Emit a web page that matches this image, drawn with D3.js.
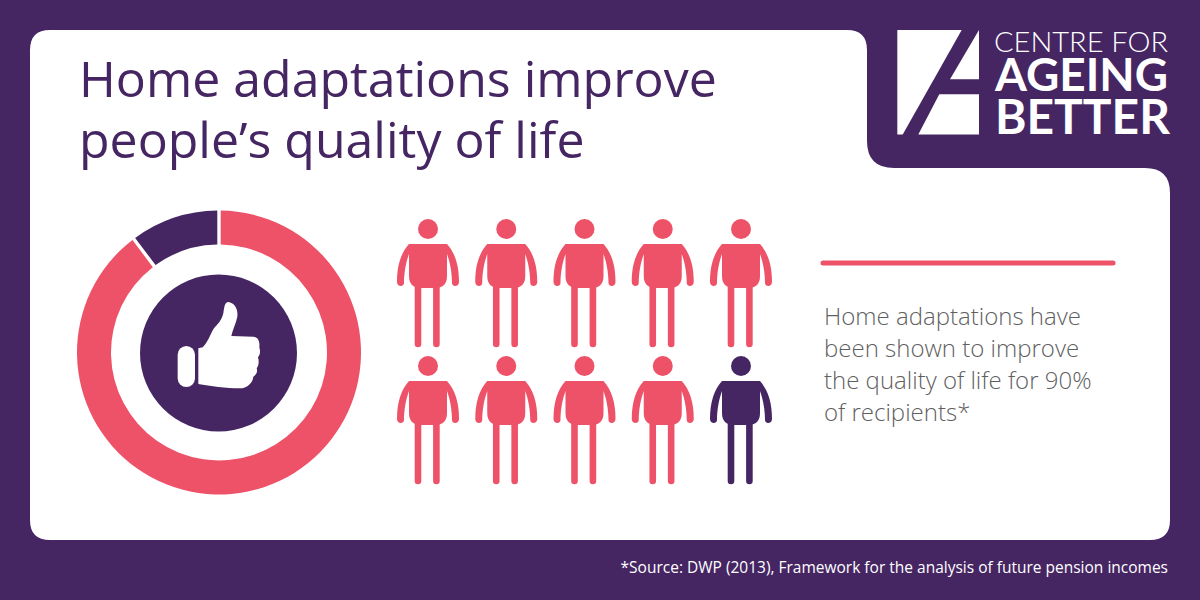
<!DOCTYPE html>
<html>
<head>
<meta charset="utf-8">
<style>
html, body { margin: 0; padding: 0; background: #452663; }
svg { display: block; }
text { font-family: "Open Sans", sans-serif; }
.logo text { font-family: Lato, sans-serif; }
</style>
<script src="https://cdn.jsdelivr.net/npm/d3@7"></script>
</head>
<body>
<svg width="1200" height="600"></svg>
<script>
var titleLines = ["Home adaptations improve", "people\u2019s quality of life"];
var bodyLines = ["Home adaptations have", "been shown to improve", "the quality of life for 90%", "of recipients*"];
var sourceLine = "*Source: DWP (2013), Framework for the analysis of future pension incomes";
var donutLabels = ["improved", "not improved"];
var donutValues = [90, 10];
var peopleColumns = [0, 1, 2, 3, 4];
var peopleRows = [0, 1];
var peopleImproved = 9;

var purple = "#452663", pink = "#ed5268", grey = "#5f5f5f";

var svg = d3.select("svg");

// white panel with the logo notch cut out of the top right
svg.append("path")
    .attr("fill", "#fff")
    .attr("d", "M50,30 H847 Q867,30 867,50 V141 Q867,168 894,168 H1145 Q1170,168 1170,193 V520 Q1170,540 1150,540 H50 Q30,540 30,520 V50 Q30,30 50,30 Z");

// title
svg.append("g").selectAll("text")
    .data(titleLines)
  .enter().append("text")
    .attr("x", 79)
    .attr("y", function(d, i) { return 97 + i * 61; })
    .attr("fill", purple)
    .attr("font-size", 50)
    .text(function(d) { return d; });

// donut
var pie = d3.pie().sort(null).padAngle(0.019);
var arc = d3.arc().innerRadius(108).outerRadius(142);
var donut = svg.append("g").attr("transform", "translate(219,352.5)");

donut.selectAll("path")
    .data(pie(donutValues))
  .enter().append("path")
    .attr("d", arc)
    .attr("fill", function(d, i) { return i == 0 ? pink : purple; })
    .append("title").text(function(d, i) { return donutLabels[i]; });

donut.append("circle")
    .attr("cx", -0.5)
    .attr("cy", 0.5)
    .attr("r", 78.5)
    .attr("fill", purple);

// thumb, drawn in 3x units
var thumb = svg.append("g").attr("transform", "translate(130,260) scale(0.3333)").attr("fill", "#fff");
thumb.append("rect")
    .attr("x", 143).attr("y", 258)
    .attr("width", 52).attr("height", 123)
    .attr("rx", 26);
thumb.append("path")
    .attr("d", "M205,265 L218,262 C232,250 240,225 250,208 C262,192 274,185 280,160 C283,140 284,127 295,126 C312,128 325,145 322,170 C318,190 308,208 304,228 L370,230 C385,232 390,245 388,262 C392,275 390,285 384,292 C388,305 386,318 380,325 C384,335 378,345 370,350 C368,370 350,385 330,385 C290,385 240,378 205,372 Z");

// people
var x = d3.scalePoint().domain(peopleColumns).range([428, 741]);
var y = d3.scalePoint().domain(peopleRows).range([229, 366]);

var people = d3.cross(peopleRows, peopleColumns).map(function(d, i) {
  return {row: d[0], col: d[1], improved: i < peopleImproved};
});

var person = svg.append("g").selectAll("g")
    .data(people)
  .enter().append("g")
    .attr("transform", function(d) { return "translate(" + x(d.col) + "," + y(d.row) + ")"; })
    .attr("fill", function(d) { return d.improved ? pink : purple; })
    .attr("stroke", function(d) { return d.improved ? pink : purple; });

person.append("circle").attr("r", 10).attr("stroke", "none");

person.append("path")
    .attr("stroke", "none")
    .attr("d", "M-19,15 H19 C27,24 31,36 31,53 C31,58 24,58 24,54 C24,44 22,33 19,25 V47 Q19,59 7,59 H-7 Q-19,59 -19,47 V25 C-22,33 -24,44 -24,54 C-24,58 -31,58 -31,53 C-31,36 -27,24 -19,15 Z");

person.selectAll("line")
    .data([-10, 8.4])
  .enter().append("line")
    .attr("x1", function(d) { return d; })
    .attr("x2", function(d) { return d; })
    .attr("y1", 55)
    .attr("y2", 115)
    .attr("stroke-width", 6.6)
    .attr("stroke-linecap", "round");

// rule and text on the right
svg.append("line")
    .attr("x1", 823).attr("x2", 1113)
    .attr("y1", 263).attr("y2", 263)
    .attr("stroke", pink)
    .attr("stroke-width", 5)
    .attr("stroke-linecap", "round");

svg.append("g").selectAll("text")
    .data(bodyLines)
  .enter().append("text")
    .attr("x", 824)
    .attr("y", function(d, i) { return 325 + i * 32; })
    .attr("fill", grey)
    .attr("font-size", 24)
    .attr("font-weight", 300)
    .text(function(d) { return d; });

// source
svg.append("text")
    .attr("x", 1168)
    .attr("y", 573)
    .attr("text-anchor", "end")
    .attr("fill", "#fff")
    .attr("font-size", 15.5)
    .text(sourceLine);

// logo
var logo = svg.append("g").attr("class", "logo").attr("fill", "#fff");
logo.selectAll("polygon")
    .data([
      "897.3,30 961.7,30 902.7,134.5 897.3,134.5",
      "979,30 979,79.3 950,79.3",
      "939.3,94.3 979,94.3 979,134.5 918.3,134.5"
    ])
  .enter().append("polygon")
    .attr("points", function(d) { return d; });

logo.append("text").attr("x", 994).attr("y", 52).attr("font-size", 28).attr("font-weight", 300)
    .attr("textLength", 174).attr("lengthAdjust", "spacingAndGlyphs").text("CENTRE FOR");
logo.append("text").attr("x", 995).attr("y", 90.5).attr("font-size", 45).attr("font-weight", 700)
    .attr("textLength", 173).attr("lengthAdjust", "spacingAndGlyphs").text("AGEING");
logo.append("text").attr("x", 995).attr("y", 134).attr("font-size", 48).attr("font-weight", 700)
    .attr("textLength", 175).attr("lengthAdjust", "spacingAndGlyphs").text("BETTER");
</script>
</body>
</html>
